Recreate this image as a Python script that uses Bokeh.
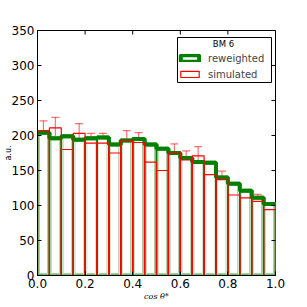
import math
from bokeh.plotting import figure
from bokeh.models import (Range1d, FixedTicker, ColumnDataSource, Whisker, TeeHead,
                          Legend, LegendItem, CustomJSTickFormatter, Label, BoxAnnotation)
from bokeh.embed import file_html
from bokeh.resources import INLINE

bin_edges = [i * 0.05 for i in range(21)]
reweighted = [204, 196, 199, 194, 196, 197, 187, 193, 195, 187,
              181, 175, 168, 162, 161, 140, 131, 121, 111, 102]
simulated = [207, 211, 180, 203, 189, 189, 175, 193, 190, 162,
             150, 175, 165, 171, 144, 137, 115, 111, 106, 94]
sim_err = [14, 15, 13, 14, 14, 14, 13, 14, 14, 13,
           12, 13, 13, 13, 12, 12, 11, 11, 10, 10]
x_ticks = [0.0, 0.2, 0.4, 0.6, 0.8, 1.0]
y_ticks = [0, 50, 100, 150, 200, 250, 300, 350]

left = bin_edges[:-1]
right = bin_edges[1:]
centers = [(a + b) / 2 for a, b in zip(left, right)]

src = ColumnDataSource(dict(left=left, right=right, bottom=[0] * 20, rw=reweighted, sim=simulated,
                            c=centers,
                            lo=[s - e for s, e in zip(simulated, sim_err)],
                            hi=[s + e for s, e in zip(simulated, sim_err)]))

BL, BR, BT, BB = 37, 25, 30, 28
FW, FH = 238, 245
p = figure(width=BL + FW + BR, height=BT + FH + BB, output_backend="svg", toolbar_location=None,
           x_range=Range1d(0, 1), y_range=Range1d(0, 350),
           min_border_left=BL, min_border_right=BR, min_border_top=BT, min_border_bottom=BB)
p.xgrid.visible = False
p.ygrid.visible = False
p.outline_line_color = "black"
p.outline_line_width = 1

GREEN = "#008000"
# reweighted bars: thick dark edges, lightened on the sides, dark core and dark step on top
g = p.quad(left="left", right="right", bottom="bottom", top="rw", source=src,
           fill_color="white", line_color=GREEN, line_width=4)
p.quad(left="left", right="right", bottom="bottom", top="rw", source=src,
       fill_color=None, line_color="white", line_alpha=0.6, line_width=4)
p.quad(left="left", right="right", bottom="bottom", top="rw", source=src,
       fill_color=None, line_color=GREEN, line_width=1.5)
p.step(x=bin_edges, y=reweighted + [reweighted[-1]], mode="after",
       line_color=GREEN, line_width=4)

r = p.quad(left="left", right="right", bottom="bottom", top="sim", source=src,
           fill_color=None, line_color="red", line_width=1.2)

w = Whisker(base="c", lower="lo", upper="hi", source=src, line_color="red", line_alpha=0.55,
            line_width=1.2,
            upper_head=TeeHead(size=8, line_color="red", line_alpha=0.55, line_width=1.2),
            lower_head=TeeHead(size=8, line_color="red", line_alpha=0.55, line_width=1.2))
p.add_layout(w)

# inward ticks on top and right edges
p.scatter(x=x_ticks, y=[350] * len(x_ticks), marker="dash", angle=math.pi / 2, size=8,
          line_color="black", line_width=1)
p.scatter(x=[1.0] * len(y_ticks), y=y_ticks, marker="dash", size=8,
          line_color="black", line_width=1)

for ax in (p.xaxis[0], p.yaxis[0]):
    ax.major_tick_in = 4
    ax.major_tick_out = 0
    ax.minor_tick_in = 0
    ax.minor_tick_out = 0
    ax.major_label_text_font = "DejaVu Sans"
    ax.major_label_text_font_size = "12px"
    ax.major_label_text_color = "black"
    ax.axis_line_color = "black"
    ax.major_tick_line_color = "black"

p.xaxis.ticker = FixedTicker(ticks=x_ticks)
p.yaxis.ticker = FixedTicker(ticks=y_ticks)
p.xaxis.formatter = CustomJSTickFormatter(code="return tick.toFixed(1);")
p.yaxis.formatter = CustomJSTickFormatter(code="return tick.toFixed(0);")
p.xaxis.major_label_standoff = 3
p.yaxis.major_label_standoff = 3

p.xaxis.axis_label = "cos θ*"
p.xaxis.axis_label_text_font = "DejaVu Serif"
p.xaxis.axis_label_text_font_style = "italic"
p.xaxis.axis_label_text_font_size = "8px"
p.xaxis.axis_label_text_color = "black"
p.xaxis.axis_label_standoff = 1
p.yaxis.axis_label = "a.u."
p.yaxis.axis_label_text_font = "DejaVu Sans"
p.yaxis.axis_label_text_font_style = "normal"
p.yaxis.axis_label_text_font_size = "8px"
p.yaxis.axis_label_text_color = "black"
p.yaxis.axis_label_standoff = -4

# legend frame
p.add_layout(BoxAnnotation(left=140, right=234, top=238, bottom=193,
                           left_units="screen", right_units="screen",
                           top_units="screen", bottom_units="screen",
                           fill_color="white", fill_alpha=1, line_color="black",
                           line_width=1, line_alpha=1))

legend = Legend(items=[LegendItem(label="reweighted", renderers=[g]),
                       LegendItem(label="simulated", renderers=[r])],
                location=(141, 195),
                label_text_font="DejaVu Sans", label_text_font_size="10px",
                border_line_color=None, background_fill_alpha=0,
                glyph_width=23, glyph_height=8, label_height=12, spacing=4, padding=2,
                margin=0, label_standoff=7)
p.add_layout(legend)

p.add_layout(Label(x=186, y=232, x_units="screen", y_units="screen", text="BM 6",
                   text_align="center", text_baseline="middle",
                   text_font="DejaVu Sans", text_font_size="8.5px", text_color="black"))

open("out.html", "w").write(file_html(p, INLINE))
